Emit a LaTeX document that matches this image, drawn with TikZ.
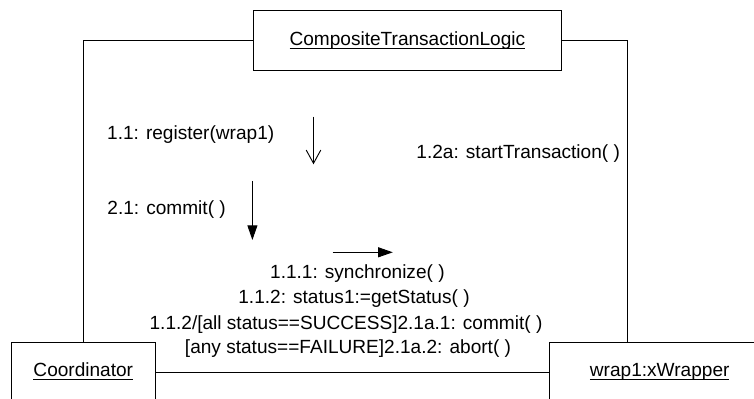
\documentclass[tikz,border=0pt]{standalone}
\usepackage{amsmath}
\usepackage{fontspec}
\setmainfont{Liberation Sans}
\usetikzlibrary{arrows.meta}

\begin{document}
\begin{tikzpicture}[x=0.75pt, y=-0.75pt, line width=0.7pt,
    every node/.style={font=\fontsize{14.3}{18}\selectfont},
    obj/.style={draw, inner sep=0pt},
    msg/.style={inner sep=0pt},
    fwd/.style={-{Triangle[length=11pt, width=7.5pt]}},
    ret/.style={-{Straight Barb[length=10pt, width=11pt]}}]
\clip (0,0) rectangle (754,399);

% objects
\node[obj, minimum width=231.5pt, minimum height=45.2pt] (ctl) at (407.4,40.6)
    {\underline{\smash[b]{CompositeTransactionLogic}}};
\node[obj, minimum width=107.6pt, minimum height=44.3pt] (coord) at (83.3,372)
    {\underline{\smash[b]{Coordinator}}};
\node[obj, minimum width=165.6pt, minimum height=44.3pt] (wrap) at (659.7,372)
    {\underline{\smash[b]{wrap1:xWrapper}}};

% links
\coordinate (wtop) at ([xshift=58.8pt]wrap.north west);
\draw (coord.north) |- (ctl.west);
\draw (ctl.east) -| (wtop);
\draw (coord.east) -- (wrap.west);

% messages
\node[msg, anchor=west] (reg) at (106.7,135) {1.1: register(wrap1)};
\node[msg, anchor=west] (com) at (107,209.3) {2.1: commit( )};
\node[msg, anchor=west] (start) at (416,153.3) {1.2a: startTransaction( )};
\node[msg] (sync) at (357.4,274) {1.1.1: synchronize( )};
\node[msg] (stat) at (354,299) {1.1.2: status1:=getStatus( )};
\node[msg] (succ) at (346,324.3) {1.1.2/[all status==SUCCESS]2.1a.1: commit( )};
\node[msg] (fail) at (348,349) {[any status==FAILURE]2.1a.2: abort( )};

\coordinate (r1) at (313.5,116.7);
\coordinate (r2) at (313.5,164.3);
\coordinate (c1) at (252.4,181);
\coordinate (c2) at (252.4,240);
\coordinate (s1) at (332.7,252.3);
\coordinate (s2) at (392.8,252.3);
\draw[ret] (r1) -- (r2);
\draw[fwd] (c1) -- (c2);
\draw[fwd] (s1) -- (s2);
\end{tikzpicture}
\end{document}
